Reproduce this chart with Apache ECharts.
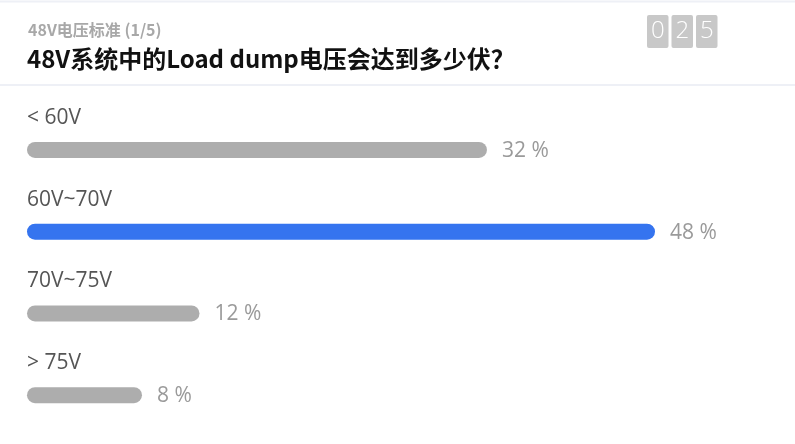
<!DOCTYPE html>
<html>
<head>
<meta charset="utf-8">
<script src="https://cdn.jsdelivr.net/npm/echarts@6/dist/echarts.min.js"></script>
<style>
html,body{margin:0;padding:0;background:#fff;}
#chart{width:795px;height:444px;}
</style>
</head>
<body>
<div id="chart"></div>
<script>
const surveyTag = '48V电压标准 (1/5)';
const question = '48V系统中的Load dump电压会达到多少伏？';
const categories = ['< 60V', '60V~70V', '70V~75V', '> 75V'];
const percents = [32, 48, 12, 8];
const highlighted = [false, true, false, false];
const counterDigits = ['0', '2', '5'];

const chart = echarts.init(document.getElementById('chart'));

const FONT = '"Open Sans", "Noto Sans", "Noto Sans CJK SC", sans-serif';
const CJK = '"Noto Sans CJK SC", "Noto Sans", sans-serif';

const graphics = [
  { type: 'line', shape: { x1: 0, y1: 1.5, x2: 795, y2: 1.5 }, style: { stroke: '#eef0f6', lineWidth: 2 }, silent: true },
  { type: 'line', shape: { x1: 0, y1: 85, x2: 795, y2: 85 }, style: { stroke: '#eef0f6', lineWidth: 2 }, silent: true }
];
counterDigits.forEach(function (d, i) {
  const x = 647 + i * 24.5;
  graphics.push({
    type: 'rect', shape: { x: x, y: 15, width: 21.5, height: 33, r: 2 },
    style: { fill: '#c8c8c8' }, silent: true
  });
  graphics.push({
    type: 'text', x: x + 10.75, y: 31.5,
    style: { text: d, fill: '#ffffff', font: '300 24px ' + FONT, textAlign: 'center', textVerticalAlign: 'middle' },
    silent: true
  });
});

chart.setOption({
  animation: false,
  backgroundColor: '#ffffff',
  title: [
    { text: surveyTag, left: 23, top: 17, textStyle: { fontSize: 16, fontWeight: 'bold', color: '#a8a8a8', fontFamily: CJK } },
    { text: question, left: 22, top: 42, textStyle: { fontSize: 24, fontWeight: 'bold', color: '#111111', fontFamily: CJK } }
  ],
  graphic: graphics,
  grid: { left: 27, right: 140, top: 109, bottom: 8, containLabel: false },
  xAxis: { type: 'value', min: 0, max: 43.69, show: false },
  yAxis: {
    type: 'category', data: categories, inverse: true,
    axisLine: { show: false }, axisTick: { show: false }, splitLine: { show: false },
    axisLabel: {
      inside: true, margin: 0, align: 'left', verticalAlign: 'bottom',
      lineHeight: 24, padding: [0, 0, 20, 0],
      fontSize: 21, color: '#555555', fontFamily: FONT
    }
  },
  series: [{
    type: 'bar',
    barWidth: 16,
    clip: true,
    data: percents.map(function (v, i) {
      return { value: v, itemStyle: { color: highlighted[i] ? '#3574ef' : '#adadad' } };
    }),
    itemStyle: { borderRadius: 8 },
    label: {
      show: true, position: 'right', distance: 15, offset: [0, 1],
      formatter: '{c} %', fontSize: 21, color: '#9a9a9a', fontFamily: FONT
    }
  }]
});
</script>
</body>
</html>
